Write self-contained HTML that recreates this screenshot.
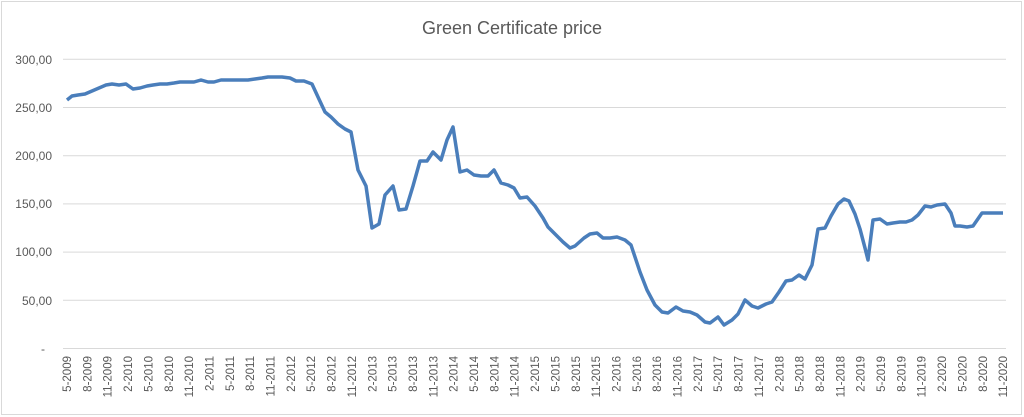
<!DOCTYPE html>
<html><head><meta charset="utf-8"><style>
html,body{margin:0;padding:0;background:#fff;}
svg{display:block;font-family:"Liberation Sans",sans-serif;}
</style></head><body>
<svg width="1024" height="417" viewBox="0 0 1024 417">
<rect x="1.5" y="1.5" width="1020" height="413" fill="#fff" stroke="#d9d9d9"/>
<text x="512" y="34" text-anchor="middle" font-size="18" fill="#595959">Green Certificate price</text>
<g stroke="#d9d9d9" stroke-width="1">
<line x1="63" x2="1006" y1="59.3" y2="59.3"/>
<line x1="63" x2="1006" y1="107.5" y2="107.5"/>
<line x1="63" x2="1006" y1="155.7" y2="155.7"/>
<line x1="63" x2="1006" y1="203.9" y2="203.9"/>
<line x1="63" x2="1006" y1="252.1" y2="252.1"/>
<line x1="63" x2="1006" y1="300.3" y2="300.3"/>
<line x1="63" x2="1006" y1="348.5" y2="348.5"/>
</g>
<g font-size="12" fill="#595959" text-anchor="end">
<text x="52" y="64">300,00</text>
<text x="52" y="112">250,00</text>
<text x="52" y="160">200,00</text>
<text x="52" y="208">150,00</text>
<text x="52" y="256">100,00</text>
<text x="52" y="305">50,00</text>
<text x="45" y="353">-</text>
</g>
<g id="xl" font-size="11.5" fill="#595959" text-anchor="end"></g>
<polyline fill="none" stroke="#4a7ebb" stroke-width="3.5" stroke-linejoin="round" points="67,100 72,96 78,95 85,94 92,91 99,88 106,85 112,84 119,85 126,84 133,89 140,88 147,86 153,85 160,84 167,84 174,83 180,82 187,82 194,82 201,80 208,82 214,82 221,80 228,80 235,80 241,80 248,80 255,79 262,78 268,77 275,77 282,77 290,78 296,81 304,81 312,84 318,97 325,112 331,117 338,124 345,129 351,132 358,170 366,186 372,228 379,224 385,195 393,186 399,210 406,209 413,186 420,161 427,161 433,152 441,160 447,140 453,127 460,172 467,170 474,175 481,176 488,176 494,170 501,183 508,185 514,188 520,198 527,197 535,206 543,218 548,227 556,235 563,242 570,248 575,246 584,238 590,234 597,233 603,238 610,238 617,237 625,240 631,245 640,272 647,290 655,305 662,312 668,313 676,307 683,311 690,312 697,315 705,322 710,323 718,317 724,325 732,320 738,314 745,300 752,306 758,308 766,304 772,302 779,292 786,281 792,280 799,275 805,279 812,265 818,229 825,228 831,216 838,204 844,199 849,201 855,214 860,229 865,248 868,260 873,220 880,219 887,224 893,223 900,222 906,222 912,220 918,215 925,206 931,207 937,205 945,204 951,213 955,226 960,226 967,227 973,226 982,213 990,213 1003,213"/>
</svg>
<script>
var g=document.getElementById('xl'),m=['5','8','11','2'],s='';
for(var i=0;i<47;i++){var mo=[5,8,11,2][i%4];var yr=2009+Math.floor((i+ (i%4==3?1:0))/4);
 if(mo==2) yr=2009+Math.floor(i/4)+1; else yr=2009+Math.floor(i/4);
 var x=67+i*20.35;
 s+='<text transform="translate('+(x+4)+',356) rotate(-90)">'+mo+'-'+yr+'</text>';}
g.innerHTML=s;
</script>
</body></html>
